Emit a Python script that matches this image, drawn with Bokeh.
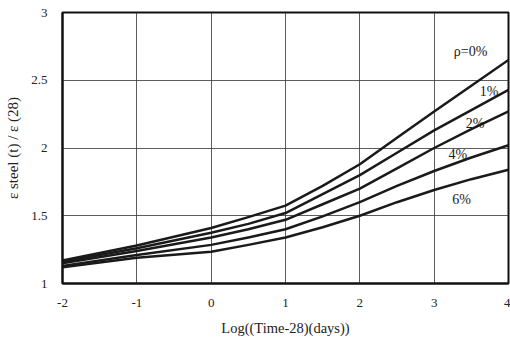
from bokeh.plotting import figure
from bokeh.embed import file_html
from bokeh.resources import INLINE
from bokeh.models import FixedTicker, Range1d
from bokeh.core.properties import value

# Data
x_vals = [-2, -1, 0, 0.5, 1, 1.5, 2, 2.5, 3, 3.5, 4]
rho_0 = [1.17, 1.28, 1.41, 1.49, 1.575, 1.72, 1.88, 2.075, 2.27, 2.46, 2.65]
rho_1 = [1.16, 1.26, 1.375, 1.44, 1.52, 1.66, 1.80, 1.965, 2.13, 2.28, 2.43]
rho_2 = [1.15, 1.24, 1.34, 1.40, 1.47, 1.585, 1.70, 1.85, 2.00, 2.14, 2.27]
rho_4 = [1.13, 1.21, 1.285, 1.34, 1.40, 1.495, 1.60, 1.72, 1.83, 1.93, 2.02]
rho_6 = [1.12, 1.19, 1.235, 1.285, 1.34, 1.415, 1.50, 1.60, 1.69, 1.77, 1.84]

label_texts = ["ρ=0%", "1%", "2%", "4%", "6%"]
label_x = [3.49, 3.74, 3.55, 3.32, 3.37]
label_y = [2.71, 2.42, 2.18, 1.955, 1.62]

x_ticks = [-2, -1, 0, 1, 2, 3, 4]
x_tick_labels = ["-2", "-1", "0", "1", "2", "3", "4"]
y_ticks = [1, 1.5, 2, 2.5, 3]
y_tick_labels = ["1", "1.5", "2", "2.5", "3"]

FONT = "Liberation Serif"

p = figure(width=510, height=341, output_backend="svg", toolbar_location=None,
           x_range=Range1d(-2, 4), y_range=Range1d(1, 3),
           min_border_left=62, min_border_right=2, min_border_top=12, min_border_bottom=58)

p.background_fill_color = "white"
p.border_fill_color = "white"
p.outline_line_color = "#111111"
p.outline_line_width = 2

for s in [rho_0, rho_1, rho_2, rho_4, rho_6]:
    p.line(x_vals, s, line_color="#1a1a1a", line_width=2.5, line_join="round")

p.text(label_x, label_y, text=label_texts, text_font=value(FONT), text_font_size="14px",
       text_align="center", text_baseline="middle", text_color="#1a1a1a")

p.xaxis.ticker = FixedTicker(ticks=x_ticks)
p.yaxis.ticker = FixedTicker(ticks=y_ticks)
p.xaxis.major_label_overrides = {t: l for t, l in zip(x_ticks, x_tick_labels)}
p.yaxis.major_label_overrides = {t: l for t, l in zip(y_ticks, y_tick_labels)}

p.xgrid.grid_line_color = "#333333"
p.ygrid.grid_line_color = "#333333"
p.xgrid.grid_line_width = 1
p.ygrid.grid_line_width = 1
p.xgrid.grid_line_alpha = 0.8
p.ygrid.grid_line_alpha = 0.8

for ax in [p.xaxis[0], p.yaxis[0]]:
    ax.axis_line_color = "#111111"
    ax.axis_line_width = 2
    ax.major_tick_line_color = None
    ax.minor_tick_line_color = None
    ax.major_label_text_font = FONT
    ax.major_label_text_font_size = "13px"
    ax.major_label_text_color = "#222222"
    ax.axis_label_text_font = FONT
    ax.axis_label_text_font_style = "normal"
    ax.axis_label_text_color = "#222222"

p.xaxis.axis_label_text_font_size = "14.5px"
p.yaxis.axis_label_text_font_size = "15px"
p.xaxis.axis_label = "Log((Time-28)(days))"
p.yaxis.axis_label = "ε steel (t) / ε (28)"
p.xaxis.major_label_standoff = 9
p.xaxis.axis_label_standoff = 10
p.yaxis.major_label_standoff = 9
p.yaxis.axis_label_standoff = 7

open("out.html", "w").write(file_html(p, INLINE))
